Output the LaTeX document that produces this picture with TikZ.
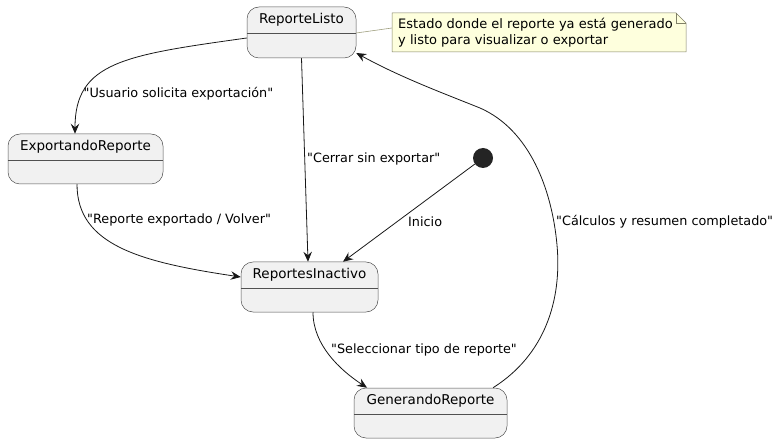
\documentclass[tikz,border=0pt]{standalone}
\usepackage{fontspec}
\setmainfont{DejaVu Sans}[Ligatures=TeXOff]
\usetikzlibrary{arrows.meta,calc}
\definecolor{stfill}{HTML}{F1F1F1}
\definecolor{stline}{HTML}{181818}
\definecolor{boxline}{HTML}{505050}
\definecolor{notefill}{HTML}{FEFFDD}
\definecolor{noteline}{HTML}{A0A080}
\tikzset{
  statebox/.style={draw=boxline, line width=0.5pt, fill=stfill, rounded corners=12pt, inner sep=0pt},
  statename/.style={font=\fontsize{13.5}{15}\selectfont, inner sep=0pt, text=black},
  sline/.style={draw=boxline, line width=0.45pt},
  edge/.style={draw=stline, line width=0.8pt, -{Stealth[length=10pt,width=8.5pt,inset=3.5pt]}},
  elabel/.style={font=\fontsize{12.8}{15}\selectfont, inner sep=0pt, anchor=west, text=black},
}
\begin{document}
\begin{tikzpicture}[x=1pt,y=-1pt]
\useasboundingbox (0,0) rectangle (783,443);
% states
\node[statebox, minimum width=109, minimum height=51] (rl) at (301.5,32.5) {};
\draw[sline] ([yshift=-26pt]rl.north west) -- ([yshift=-26pt]rl.north east);
\node[statename] (rlt) at ($(rl.north)+(0,13)$) {ReporteListo};

\node[statebox, minimum width=155, minimum height=50] (ex) at (85.5,159) {};
\draw[sline] ([yshift=-26pt]ex.north west) -- ([yshift=-26pt]ex.north east);
\node[statename] (ext) at ($(ex.north)+(0,13)$) {ExportandoReporte};

\node[statebox, minimum width=137, minimum height=50] (ri) at (309.5,287) {};
\draw[sline] ([yshift=-26pt]ri.north west) -- ([yshift=-26pt]ri.north east);
\node[statename] (rit) at ($(ri.north)+(0,13)$) {ReportesInactivo};

\node[statebox, minimum width=153, minimum height=50] (gr) at (430.5,413) {};
\draw[sline] ([yshift=-26pt]gr.north west) -- ([yshift=-26pt]gr.north east);
\node[statename] (grt) at ($(gr.north)+(0,13)$) {GenerandoReporte};

% initial
\node[circle, fill=stline!95!white, minimum size=20pt, inner sep=0pt] (init) at (483,158) {};

% note
\coordinate (nA) at (392,13);
\coordinate (nB) at (676,13);
\coordinate (nC) at (686,23);
\coordinate (nD) at (686,52);
\coordinate (nE) at (392,52);
\coordinate (nT) at (392,28);
\draw[noteline, line width=0.6pt] ([yshift=-0.5pt]rl.east) -- (nT);
\filldraw[draw=noteline!80!black, fill=notefill, line width=0.5pt] (nA) -- (nB) -- (nC) -- (nD) -- (nE) -- cycle;
\draw[noteline!80!black, line width=0.5pt] (nB) -- (676,23) -- (nC);
\node[font=\fontsize{13}{16}\selectfont, align=left, anchor=north west, inner sep=0pt, text=black] (notetxt) at (398,18) {Estado donde el reporte ya está generado\\y listo para visualizar o exportar};

% edges
\draw[edge] ([yshift=-5.5pt]rl.west) .. controls (125,55) and (75,62) .. ([xshift=-10.5pt]ex.north);
\node[elabel] (l1) at (83.5,94) {"Usuario solicita exportación"};

\draw[edge] (rl.south) -- ([xshift=-1.5pt]ri.north);
\node[elabel] (l2) at (307,159) {"Cerrar sin exportar"};

\draw[edge] (init) -- ([xshift=33.5pt]ri.north);
\node[elabel] (l3) at (408,222) {Inicio};

\draw[edge] ([xshift=-8.5pt]ex.south) .. controls (77,245) and (140,262) .. ([yshift=10pt]ri.west);
\node[elabel] (l4) at (87,220) {"Reporte exportado / Volver"};

\draw[edge] ([xshift=3.5pt]ri.south) .. controls (313,345) and (340,370) .. ([xshift=-63.5pt]gr.north);
\node[elabel] (l5) at (331,350) {"Seleccionar tipo de reporte"};

\draw[edge] ([xshift=62.5pt]gr.north) .. controls (545,355) and (562,300) .. (557,245)
  .. controls (552,190) and (530,130) .. (480,108)
  .. controls (440,92) and (400,77) .. ([yshift=-20.5pt]rl.east);
\node[elabel] (l6) at (556,222) {"Cálculos y resumen completado"};
\end{tikzpicture}
\end{document}
